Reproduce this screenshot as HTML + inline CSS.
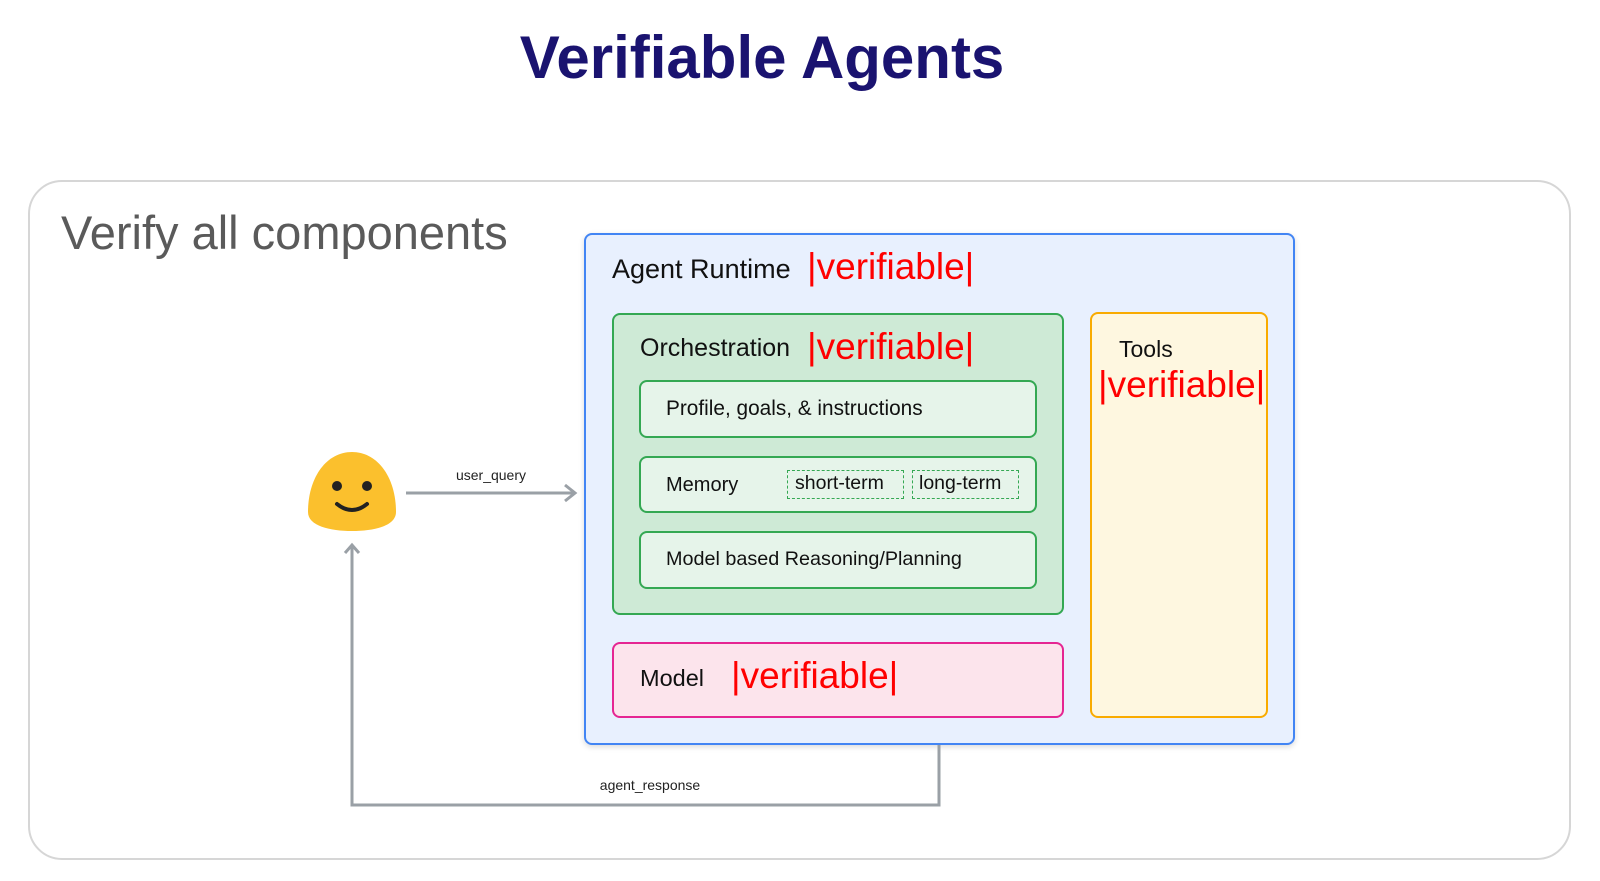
<!DOCTYPE html>
<html><head><meta charset="utf-8"><style>
body{margin:0;width:1600px;height:881px;background:#fff;position:relative;overflow:hidden;font-family:"Liberation Sans",sans-serif}
.a{position:absolute;box-sizing:border-box}
.t{position:absolute;white-space:nowrap;line-height:1}
.red{color:#f00;font-family:"Liberation Sans",sans-serif;font-size:37px}
</style></head><body>
<div class="t" style="left:0;width:1524px;text-align:center;top:28px;font-size:60px;font-weight:bold;color:#1a1370">Verifiable Agents</div>
<div class="a" style="left:28px;top:180px;width:1543px;height:680px;border:2px solid #d6d6d6;border-radius:34px"></div>
<div class="t" style="left:61px;top:209px;font-size:47px;color:#5a5a5a">Verify all components</div>

<div class="a" style="left:584px;top:233px;width:711px;height:512px;background:#e8f0fe;border:2px solid #4285f4;border-radius:8px;box-shadow:0 2px 6px rgba(0,0,0,.15)"></div>
<div class="t" style="left:612px;top:256px;font-size:27px;color:#111">Agent Runtime</div>
<div class="t red" style="left:807px;top:248px">|verifiable|</div>

<div class="a" style="left:612px;top:313px;width:452px;height:302px;background:#ceead6;border:2px solid #34a853;border-radius:8px"></div>
<div class="t" style="left:640px;top:336px;font-size:25px;color:#111">Orchestration</div>
<div class="t red" style="left:807px;top:328px">|verifiable|</div>

<div class="a" style="left:639px;top:380px;width:398px;height:58px;background:#e6f4ea;border:2px solid #34a853;border-radius:8px"></div>
<div class="t" style="left:666px;top:399px;font-size:20.8px;color:#111">Profile, goals, &amp; instructions</div>
<div class="a" style="left:639px;top:456px;width:398px;height:57px;background:#e6f4ea;border:2px solid #34a853;border-radius:8px"></div>
<div class="t" style="left:666px;top:475px;font-size:20px;color:#111">Memory</div>
<div class="a" style="left:787px;top:470px;width:117px;height:29px;border:1.5px dashed #34a853"></div>
<div class="t" style="left:795px;top:474px;font-size:19.5px;color:#111">short-term</div>
<div class="a" style="left:912px;top:470px;width:107px;height:29px;border:1.5px dashed #34a853"></div>
<div class="t" style="left:919px;top:474px;font-size:19.5px;color:#111">long-term</div>
<div class="a" style="left:639px;top:531px;width:398px;height:58px;background:#e6f4ea;border:2px solid #34a853;border-radius:8px"></div>
<div class="t" style="left:666px;top:550px;font-size:19.8px;color:#111">Model based Reasoning/Planning</div>

<div class="a" style="left:612px;top:642px;width:452px;height:76px;background:#fce4ec;border:2px solid #e52592;border-radius:8px"></div>
<div class="t" style="left:640px;top:667px;font-size:23.5px;color:#111">Model</div>
<div class="t red" style="left:731px;top:657px">|verifiable|</div>

<div class="a" style="left:1090px;top:312px;width:178px;height:406px;background:#fef7e0;border:2px solid #f9ab00;border-radius:8px"></div>
<div class="t" style="left:1119px;top:338px;font-size:23px;color:#111">Tools</div>
<div class="t red" style="left:1098px;top:366px">|verifiable|</div>

<svg class="a" style="left:0;top:0" width="1600" height="881">
<path d="M352 452 C326 452 308 478 308 512 C308 526 330 531 352 531 C374 531 396 526 396 512 C396 478 378 452 352 452Z" fill="#fbc02d"/>
<circle cx="337" cy="486" r="5" fill="#222"/><circle cx="367" cy="486" r="5" fill="#222"/>
<path d="M337 504 Q352 516 367 504" stroke="#222" stroke-width="4" fill="none" stroke-linecap="round"/>
<g stroke="#9aa0a6" stroke-width="3" fill="none">
<path d="M406 493 H574"/><path d="M565 485 L575 493 L565 501"/>
<path d="M939 745 V805 H352 V546"/><path d="M345 553 L352 545 L359 553"/>
</g>
<text x="491" y="480" font-size="14" text-anchor="middle" fill="#222" font-family="Liberation Sans">user_query</text>
<text x="650" y="790" font-size="14" text-anchor="middle" fill="#222" font-family="Liberation Sans">agent_response</text>
</svg>
</body></html>
